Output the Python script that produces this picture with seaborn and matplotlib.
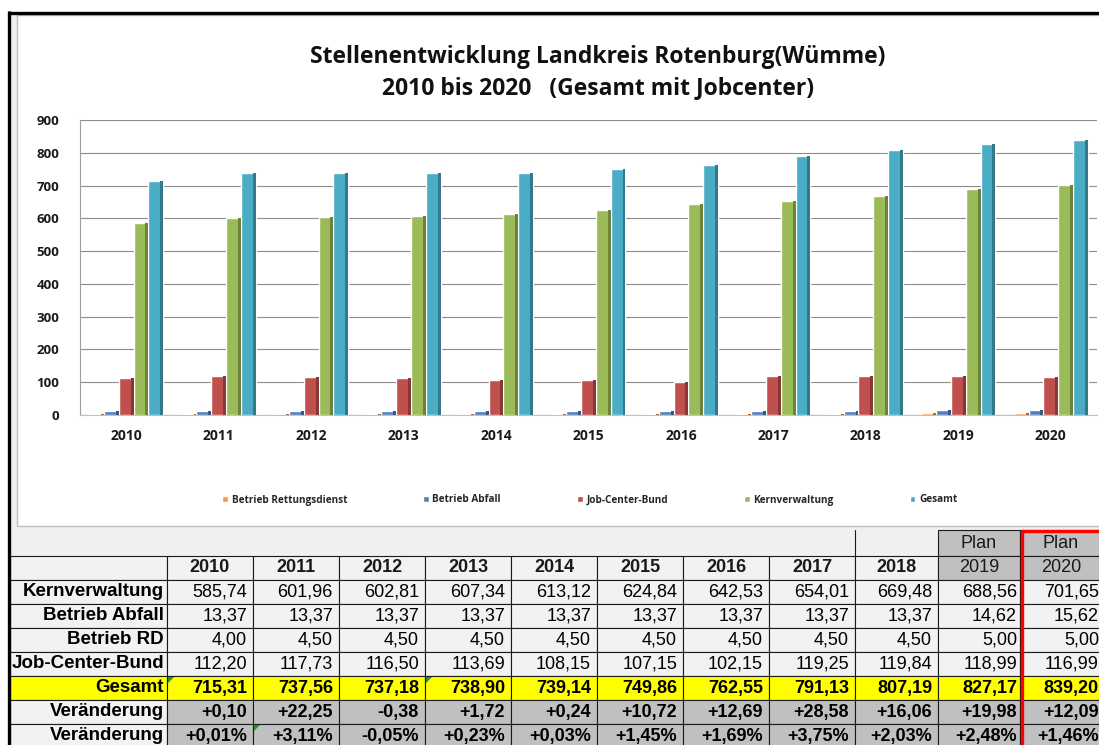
import matplotlib
matplotlib.use("Agg")
import matplotlib.pyplot as plt
from matplotlib.patches import Rectangle, Patch, Polygon
import numpy as np
import pandas as pd
import seaborn as sns

# Data (Stellen je Jahr)
years = ["2010", "2011", "2012", "2013", "2014", "2015", "2016", "2017", "2018", "2019", "2020"]
kern = [585.74, 601.96, 602.81, 607.34, 613.12, 624.84, 642.53, 654.01, 669.48, 688.56, 701.65]
abfall = [13.37, 13.37, 13.37, 13.37, 13.37, 13.37, 13.37, 13.37, 13.37, 14.62, 15.62]
rd = [4.00, 4.50, 4.50, 4.50, 4.50, 4.50, 4.50, 4.50, 4.50, 5.00, 5.00]
jcb = [112.20, 117.73, 116.50, 113.69, 108.15, 107.15, 102.15, 119.25, 119.84, 118.99, 116.99]
gesamt = [715.31, 737.56, 737.18, 738.90, 739.14, 749.86, 762.55, 791.13, 807.19, 827.17, 839.20]
diff = [0.10, 22.25, -0.38, 1.72, 0.24, 10.72, 12.69, 28.58, 16.06, 19.98, 12.09]
pct = [0.01, 3.11, -0.05, 0.23, 0.03, 1.45, 1.69, 3.75, 2.03, 2.48, 1.46]
plan_years = ["2019", "2020"]

series_names = ["Betrieb Rettungsdienst", "Betrieb Abfall", "Job-Center-Bund", "Kernverwaltung", "Gesamt"]
series_colors = ["#F79646", "#4F81BD", "#C0504D", "#9BBB59", "#4BACC6"]

row_labels = ["Kernverwaltung", "Betrieb Abfall", "Betrieb RD", "Job-Center-Bund",
              "Gesamt", "Veränderung", "Veränderung"]

df = pd.DataFrame({
    "Jahr": years * 5,
    "Reihe": np.repeat(series_names, len(years)),
    "Stellen": rd + abfall + jcb + kern + gesamt,
})

sns.set_style("white")
plt.rcParams["font.family"] = ["Open Sans", "DejaVu Sans"]

W, H = 1099, 745
fig = plt.figure(figsize=(W / 100, H / 100), dpi=100)
fig.patch.set_facecolor("white")

# background layer in pixel coordinates
bg = fig.add_axes([0, 0, 1, 1], zorder=0)
bg.set_xlim(0, W)
bg.set_ylim(H, 0)
bg.axis("off")

bg.add_patch(Rectangle((8, 12), W, H, facecolor="#f0f0f0", edgecolor="none"))
bg.add_patch(Rectangle((17, 15), W, 511, facecolor="white", edgecolor="#bdbdbd", lw=1.0))
bg.plot([8, W], [12.5, 12.5], color="black", lw=2.4, solid_capstyle="butt")
bg.plot([8.5, 8.5], [11, H], color="black", lw=2.4, solid_capstyle="butt")

bg.text(598, 57, "Stellenentwicklung Landkreis Rotenburg(Wümme)", ha="center", va="center",
        fontsize=16.5, fontweight="bold", color="#111111")
bg.text(598, 88, "2010 bis 2020   (Gesamt mit Jobcenter)", ha="center", va="center",
        fontsize=16.5, fontweight="bold", color="#111111")


def px_axes(x0, y0, x1, y1, **kw):
    return fig.add_axes([x0 / W, 1 - y1 / H, (x1 - x0) / W, (y1 - y0) / H], **kw)


# bar chart
ax = px_axes(80, 120, 1097, 415, zorder=1)
ax.set_facecolor("none")
sns.barplot(data=df, x="Jahr", y="Stellen", hue="Reihe", hue_order=series_names,
            palette=series_colors, width=0.8, gap=0, saturation=1, legend=False,
            ax=ax, zorder=3)

# darker side face for the 3D look
for p in list(ax.patches):
    x, w, h = p.get_x(), p.get_width(), p.get_height()
    r, g, b, _ = p.get_facecolor()
    ax.add_patch(Rectangle((x + w * 0.8, 0), w * 0.2, h, facecolor=(r * 0.7, g * 0.7, b * 0.7),
                           edgecolor="none", zorder=3.5))

ax.set_ylim(0, 900)
ax.set_xlim(-0.5, 10.5)
ax.set_yticks(range(0, 901, 100))
ax.set_xticks(np.arange(-0.5, 11, 1), minor=True)
ax.yaxis.grid(True, color="#8c8c8c", lw=0.8)
ax.set_axisbelow(True)
ax.set_xlabel("")
ax.set_ylabel("")
for s in ["top", "right"]:
    ax.spines[s].set_visible(False)
ax.spines["left"].set_color("#a0a0a0")
ax.spines["bottom"].set_color("#c0c0c0")
ax.tick_params(axis="y", length=3, color="#a0a0a0", pad=12, labelsize=9.5)
ax.tick_params(axis="x", which="major", length=0, pad=10, labelsize=10)
ax.tick_params(axis="x", which="minor", length=4, color="#c0c0c0")
for lbl in ax.get_xticklabels() + ax.get_yticklabels():
    lbl.set_fontweight("bold")
    lbl.set_color("#1a1a1a")

handles = [Patch(facecolor=c) for c in series_colors]
fig.legend(handles, series_names, loc="center left", bbox_to_anchor=(222 / W, 1 - 500 / H),
           ncol=5, frameon=False, prop=dict(family="Open Sans", weight="bold", size=7.2),
           handlelength=0.55, handleheight=0.55, handletextpad=0.4, columnspacing=7.6,
           borderpad=0, borderaxespad=0)

# table below the chart
col_edges = [10, 167, 253, 339, 425, 511, 597, 683, 769, 855, 938, 1020, 1102]
row_edges = [556, 580, 604, 628, 652, 676, 700, 724, 748]
tfont = ["Liberation Sans", "DejaVu Sans"]
edge = "#1a1a1a"


def fmt(v):
    return f"{v:.2f}".replace(".", ",")


table_rows = [
    [fmt(v) for v in kern],
    [fmt(v) for v in abfall],
    [fmt(v) for v in rd],
    [fmt(v) for v in jcb],
    [fmt(v) for v in gesamt],
    [f"{v:+.2f}".replace(".", ",") for v in diff],
    [f"{v:+.2f}%".replace(".", ",") for v in pct],
]


def cell(x0, y0, x1, y1, fc):
    bg.add_patch(Rectangle((x0, y0), x1 - x0, y1 - y0, facecolor=fc, edgecolor=edge, lw=0.8))


# "Plan" row above 2019 / 2020
bg.plot([855, 855], [530, 556], color=edge, lw=0.8)
for j, py in enumerate(plan_years):
    x0, x1 = col_edges[10 + j], col_edges[11 + j]
    cell(x0, 530, x1, 556, "#c0c0c0")
    bg.text((x0 + x1) / 2, 543, "Plan", ha="center", va="center", fontsize=13,
            family=tfont, color="#1a1a1a")

# header row
cell(col_edges[0], row_edges[0], col_edges[1], row_edges[1], "#f2f2f2")
for j, yr in enumerate(years):
    x0, x1 = col_edges[j + 1], col_edges[j + 2]
    plan = yr in plan_years
    cell(x0, row_edges[0], x1, row_edges[1], "#c0c0c0" if plan else "#f2f2f2")
    bg.text((x0 + x1) / 2, (row_edges[0] + row_edges[1]) / 2, yr, ha="center", va="center",
            fontsize=13, family=tfont, fontweight="normal" if plan else "bold", color="#1a1a1a")

# data rows
for i, (lab, vals) in enumerate(zip(row_labels, table_rows)):
    y0, y1 = row_edges[i + 1], row_edges[i + 2]
    ym = (y0 + y1) / 2
    is_sum = lab == "Gesamt"
    is_change = lab == "Veränderung"
    lab_fc = "#ffff00" if is_sum else "#f2f2f2"
    cell(col_edges[0], y0, col_edges[1], y1, lab_fc)
    bg.text(col_edges[1] - 3, ym, lab, ha="right", va="center", fontsize=13.5,
            fontweight="bold", family=tfont, color="#000000")
    for j, v in enumerate(vals):
        x0, x1 = col_edges[j + 1], col_edges[j + 2]
        fc = "#ffff00" if is_sum else ("#c0c0c0" if is_change else "#f2f2f2")
        cell(x0, y0, x1, y1, fc)
        bg.text(x1 - (3 if j >= 9 else 6), ym, v, ha="right", va="center", fontsize=13,
                fontweight="bold" if (is_sum or is_change) else "normal",
                family=tfont, color="#000000")

# Excel error markers (small green corners)
for ri, cj in [(4, 0), (4, 3), (6, 1)]:
    x0, y0 = col_edges[cj + 1], row_edges[ri + 1]
    bg.add_patch(Polygon([(x0 + 1, y0 + 1), (x0 + 7, y0 + 1), (x0 + 1, y0 + 7)],
                         closed=True, facecolor="#2e8b2e", edgecolor="none"))

# red frame around the 2020 column
bg.plot([1022, 1022], [529.5, H], color="#ff0000", lw=2.4, solid_capstyle="butt")
bg.plot([1021, W], [531, 531], color="#ff0000", lw=2.4, solid_capstyle="butt")

fig.savefig("out.png", dpi=100)
